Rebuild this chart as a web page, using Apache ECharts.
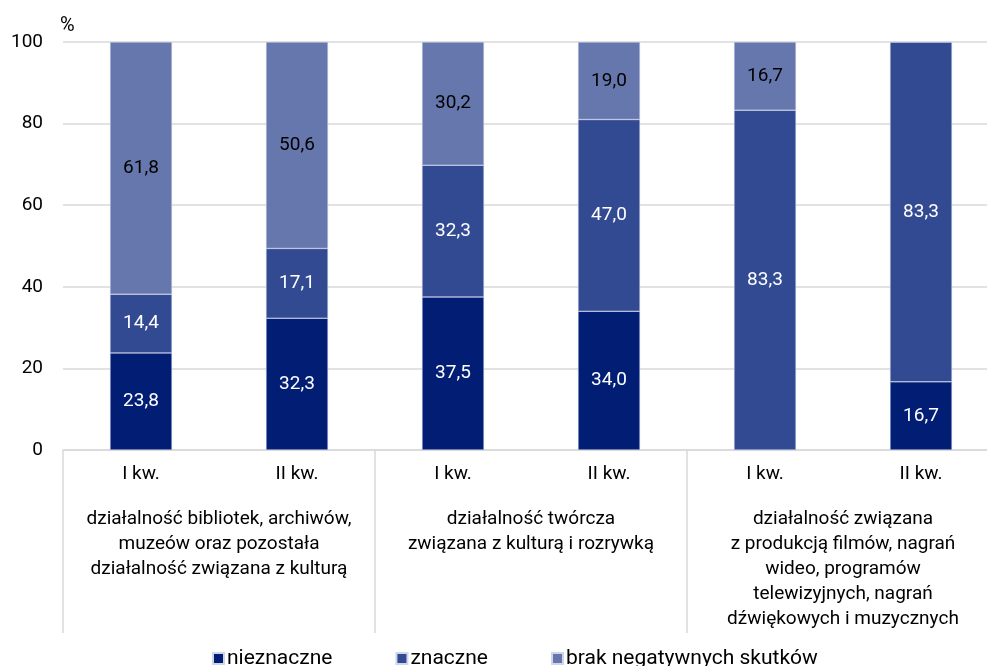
<!DOCTYPE html>
<html><head><meta charset="utf-8">
<script src="https://cdn.jsdelivr.net/npm/echarts@6/dist/echarts.min.js"></script>
<style>html,body{margin:0;padding:0;background:#fff;overflow:hidden}#c{width:999px;height:666px}</style>
</head><body><div id="c"></div>
<script>
var quarters = ['I kw.', 'II kw.', 'I kw.', 'II kw.', 'I kw.', 'II kw.'];
var groups = [
  'działalność bibliotek, archiwów,\nmuzeów oraz pozostała\ndziałalność związana z kulturą',
  'działalność twórcza\nzwiązana z kulturą i rozrywką',
  'działalność związana\nz produkcją filmów, nagrań\nwideo, programów\ntelewizyjnych, nagrań\ndźwiękowych i muzycznych'
];
var nieznaczne = [23.8, 32.3, 37.5, 34.0, 0, 16.7];
var znaczne = [14.4, 17.1, 32.3, 47.0, 83.3, 83.3];
var brak = [61.8, 50.6, 30.2, 19.0, 16.7, 0];
var yTicks = [0, 20, 40, 60, 80, 100];

var FONT = 'Roboto';
function fmt(p) { return p.value ? p.value.toFixed(1).replace('.', ',') : ''; }
function ser(name, data, color, labelColor) {
  return {
    name: name, type: 'bar', stack: 's', data: data, barWidth: 62,
    itemStyle: { color: color, borderColor: '#d0d6ea', borderWidth: 0.5 },
    label: { show: true, position: 'inside', formatter: fmt, color: labelColor, fontSize: 19, fontFamily: FONT },
    emphasis: { disabled: true }
  };
}
var chart = echarts.init(document.getElementById('c'));
chart.setOption({
  animation: false,
  textStyle: { fontFamily: FONT },
  grid: { left: 63, right: 0, top: 42, bottom: 216, containLabel: false },
  legend: {
    left: 212, top: 648, padding: 0, itemWidth: 11, itemHeight: 11, itemGap: 63,
    icon: 'rect', textStyle: { fontSize: 21, color: '#000', fontFamily: FONT, padding: [0, 0, 0, -2] },
    data: ['nieznaczne', 'znaczne', 'brak negatywnych skutków']
  },
  xAxis: [{
    type: 'category', data: quarters, position: 'bottom',
    axisLine: { lineStyle: { color: '#d9d9d9', width: 1.5 } },
    axisTick: { show: false },
    axisLabel: { color: '#000', fontSize: 19, margin: 15, fontFamily: FONT }
  }, {
    type: 'category', data: groups, position: 'bottom',
    axisLine: { show: false },
    axisTick: { show: true, interval: 0, length: 183, lineStyle: { color: '#d9d9d9', width: 1.5 } },
    axisLabel: { color: '#000', fontSize: 19, margin: 57, lineHeight: 25, interval: 0, fontFamily: FONT, align: 'center' }
  }],
  yAxis: {
    type: 'value', min: yTicks[0], max: yTicks[yTicks.length - 1], interval: 20,
    name: '%', nameLocation: 'end', nameGap: 6,
    nameTextStyle: { color: '#000', fontSize: 20, align: 'left', padding: [0, 0, 0, -3], fontFamily: FONT },
    axisLine: { show: false }, axisTick: { show: false },
    axisLabel: { color: '#000', fontSize: 19, margin: 20, fontFamily: FONT },
    splitLine: { lineStyle: { color: '#d9d9d9', width: 1.5 } }
  },
  series: [
    ser('nieznaczne', nieznaczne, '#011e74', '#fff'),
    ser('znaczne', znaczne, '#324a92', '#fff'),
    ser('brak negatywnych skutków', brak, '#6677ad', '#000')
  ]
});
</script></body></html>
